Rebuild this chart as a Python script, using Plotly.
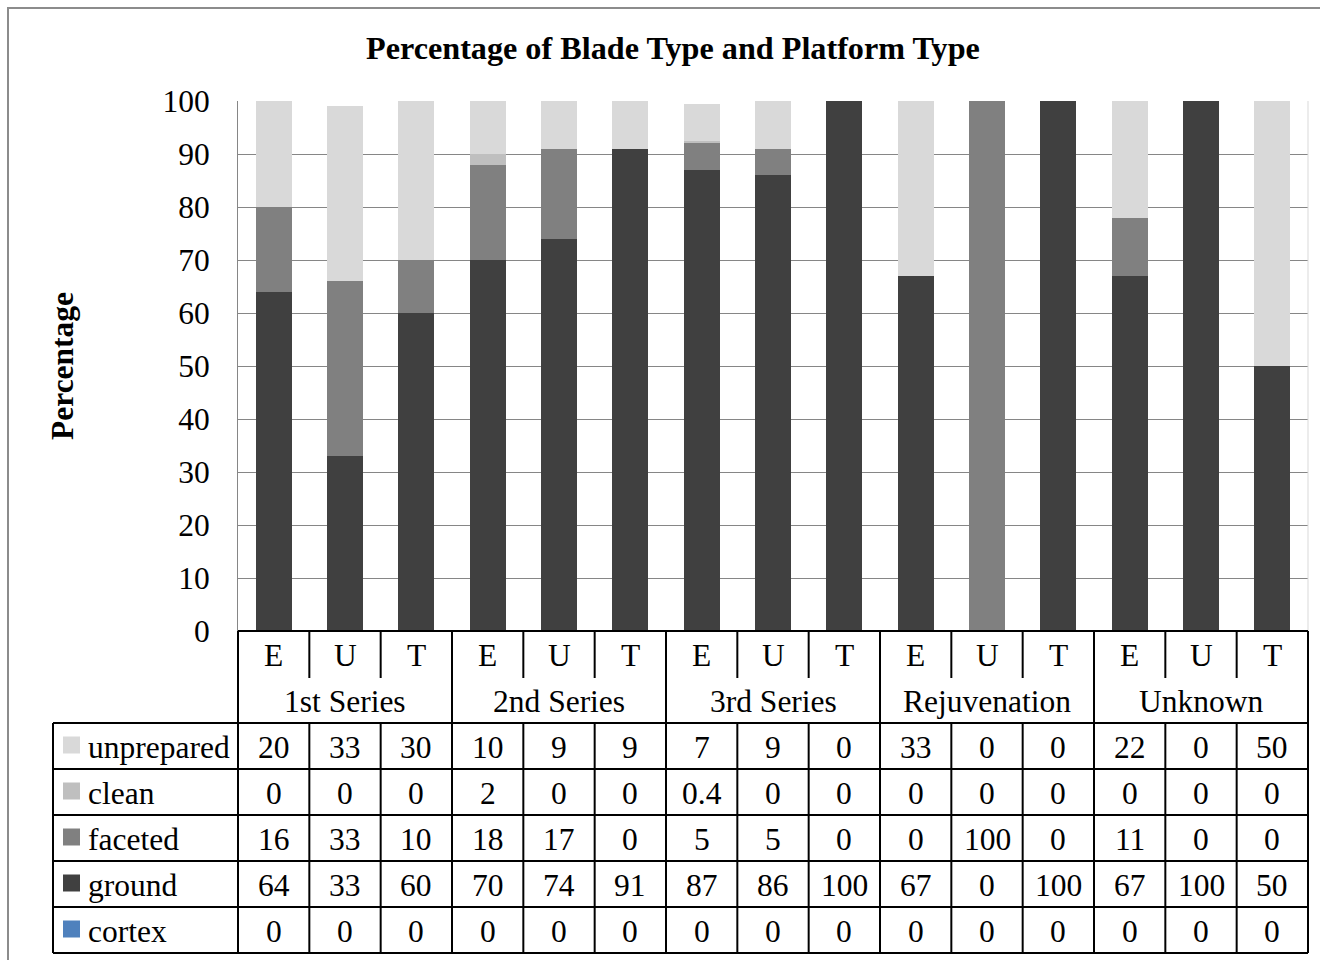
import plotly.graph_objects as go

# ---- data ----
groups = ["1st Series", "2nd Series", "3rd Series", "Rejuvenation", "Unknown"]
types = ["E", "U", "T"]
series_names = ["unprepared", "clean", "faceted", "ground", "cortex"]
unprepared = [20, 33, 30, 10, 9, 9, 7, 9, 0, 33, 0, 0, 22, 0, 50]
clean = [0, 0, 0, 2, 0, 0, 0.4, 0, 0, 0, 0, 0, 0, 0, 0]
faceted = [16, 33, 10, 18, 17, 0, 5, 5, 0, 0, 100, 0, 11, 0, 0]
ground = [64, 33, 60, 70, 74, 91, 87, 86, 100, 67, 0, 100, 67, 100, 50]
cortex = [0] * 15
colors = {"unprepared": "#D9D9D9", "clean": "#BFBFBF", "faceted": "#808080",
          "ground": "#404040", "cortex": "#4F81BD"}
values = {"unprepared": unprepared, "clean": clean, "faceted": faceted,
          "ground": ground, "cortex": cortex}

W, H = 1320, 960
FONT = "Liberation Serif"
FS = 31.5
n = len(groups) * len(types)
xs = list(range(n))

# layout geometry in pixels
PL, PR, PT, PB = 238, 1308, 101, 631
TL = 53
row_cat = (631, 678)
row_grp = (678, 723)
row_h = 46
data_top = 723

def px(x):
    return x / W

def py(y):
    return 1 - y / H

fig = go.Figure()
for name in ["cortex", "ground", "faceted", "clean", "unprepared"]:
    fig.add_trace(go.Bar(x=xs, y=values[name], name=name,
                         marker=dict(color=colors[name], line=dict(width=0)),
                         width=0.505, showlegend=False, hoverinfo="y+name"))

shapes = []
annotations = []
colw = (PR - PL) / n

def line(x0, y0, x1, y1, color="black", w=2):
    shapes.append(dict(type="line", xref="paper", yref="paper",
                       x0=px(x0), y0=py(y0), x1=px(x1), y1=py(y1),
                       line=dict(color=color, width=w)))

def text(x, y, s, size=FS, bold=False, xanchor="center", angle=0):
    annotations.append(dict(xref="paper", yref="paper", x=px(x), y=py(y),
                            text=("<b>%s</b>" % s) if bold else s,
                            showarrow=False, xanchor=xanchor, yanchor="middle",
                            textangle=angle,
                            font=dict(family=FONT, size=size, color="black")))

# outer chart border
shapes.append(dict(type="rect", xref="paper", yref="paper",
                   x0=px(8), y0=py(1000), x1=px(1340), y1=py(8),
                   line=dict(color="#8C8C8C", width=2)))

# right edge line of plot area
shapes.append(dict(type="line", xref="paper", yref="paper",
                   x0=px(PR), x1=px(PR), y0=py(PB), y1=py(PT),
                   line=dict(color="#D9D9D9", width=1)))

# category rows
line(PL, row_cat[0], PR, row_cat[0])
line(TL, data_top, PR, data_top)
for i in range(n + 1):
    x = PL + i * colw
    if i % 3 == 0:
        line(x, row_cat[0], x, row_grp[1])
    else:
        line(x, row_cat[0], x, row_cat[1])
for i in range(n):
    cx = PL + (i + 0.5) * colw
    text(cx, (row_cat[0] + row_cat[1]) / 2 + 1, types[i % 3])
for g, gname in enumerate(groups):
    cx = PL + (g * 3 + 1.5) * colw
    text(cx, (row_grp[0] + row_grp[1]) / 2 + 1, gname)

# data table
table_rows = len(series_names)
bottom = data_top + table_rows * row_h
for r in range(table_rows + 1):
    y = data_top + r * row_h
    line(TL, y, PR, y)
line(TL, data_top, TL, bottom)
for i in range(n + 1):
    x = PL + i * colw
    line(x, data_top, x, bottom)
for r, name in enumerate(series_names):
    cy = data_top + (r + 0.5) * row_h + 1
    shapes.append(dict(type="rect", xref="paper", yref="paper",
                       x0=px(63), x1=px(80), y0=py(cy - 8.5 - 2), y1=py(cy + 8.5 - 2),
                       fillcolor=colors[name], line=dict(width=0)))
    text(86, cy, name, xanchor="left")
    for i, v in enumerate(values[name]):
        cx = PL + (i + 0.5) * colw
        text(cx, cy, f"{v:g}")

# title and axis title
text(673, 48, "Percentage of Blade Type and Platform Type", size=32.2, bold=True)
text(62, 366, "Percentage", bold=True, angle=-90)

fig.update_layout(
    template="none",
    width=W, height=H,
    margin=dict(l=0, r=0, t=0, b=0, pad=0, autoexpand=False),
    paper_bgcolor="white", plot_bgcolor="white",
    barmode="stack", bargap=0.5,
    shapes=shapes, annotations=annotations,
    xaxis=dict(domain=[px(PL), px(PR)], range=[-0.5, n - 0.5],
               showticklabels=False, showgrid=False, zeroline=False,
               showline=False, ticks="", automargin=False),
    yaxis=dict(domain=[py(PB), py(PT)], range=[0, 100], dtick=10,
               showgrid=True, gridcolor="#868686", gridwidth=1,
               zeroline=False, showline=True, linecolor="#868686", linewidth=1,
               mirror=False, ticks="", ticklabelstandoff=21, automargin=False,
               tickfont=dict(family=FONT, size=FS, color="black")),
)

fig.write_html("out.html", config={"displayModeBar": False},
               post_script="document.body.style.margin='0';document.body.style.overflow='hidden';")
